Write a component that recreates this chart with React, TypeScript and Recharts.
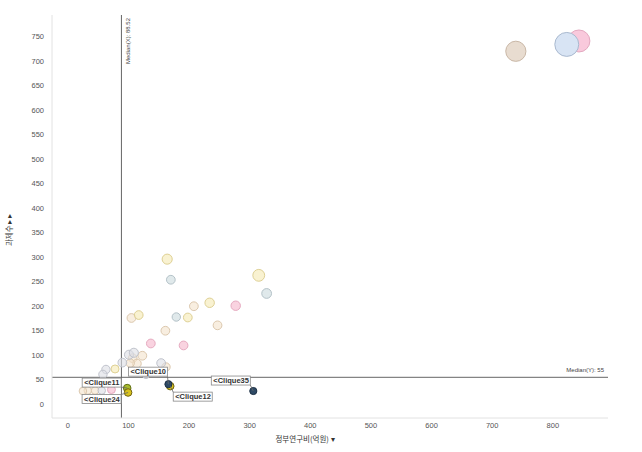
import React from 'react';
import {
  ScatterChart, Scatter, XAxis, YAxis, ZAxis, ReferenceLine, LabelList
} from 'recharts';

// x: 정부연구비(억원), y: 과제수, z: bubble size
const yellowPts = [
  { x: 164, y: 296, z: 80 }, { x: 315, y: 263, z: 110 }, { x: 117, y: 182, z: 60 },
  { x: 198, y: 177, z: 60 }, { x: 234, y: 207, z: 70 }, { x: 78, y: 72, z: 50 },
];
const beigePts = [
  { x: 208, y: 200, z: 60 }, { x: 247, y: 161, z: 60 }, { x: 105, y: 176, z: 60 },
  { x: 161, y: 150, z: 60 }, { x: 123, y: 99, z: 60 }, { x: 107, y: 94, z: 60 },
  { x: 114, y: 83, z: 60 }, { x: 103, y: 84, z: 55 }, { x: 162, y: 76, z: 55 },
  { x: 33, y: 28, z: 45 }, { x: 45, y: 28, z: 45 }, { x: 25, y: 27, z: 45 },
];
const blueGrayPts = [
  { x: 170, y: 254, z: 60 }, { x: 328, y: 226, z: 75 }, { x: 179, y: 178, z: 55 },
];
const grayPts = [
  { x: 101, y: 101, z: 65 }, { x: 109, y: 105, z: 65 }, { x: 90, y: 85, z: 60 },
  { x: 154, y: 84, z: 60 }, { x: 129, y: 61, z: 55 }, { x: 63, y: 71, z: 55 },
  { x: 58, y: 61, z: 55 }, { x: 56, y: 28, z: 45 },
];
const pinkPts = [
  { x: 277, y: 201, z: 70 }, { x: 137, y: 124, z: 60 }, { x: 191, y: 120, z: 60 },
  { x: 72, y: 30, z: 50 },
];
const bigPts = [
  { x: 739, y: 720, z: 320, c: 'beige' },
  { x: 843, y: 741, z: 380, c: 'pink' },
  { x: 823, y: 734, z: 450, c: 'blue' },
];
const greenPts = [{ x: 98, y: 33, z: 45, name: 'Clique11' }];
const goldPts = [
  { x: 99.5, y: 24, z: 45, name: 'Clique24' },
  { x: 169, y: 37, z: 45, name: 'Clique12' },
];
const navyPts = [
  { x: 166, y: 41, z: 40, name: 'Clique10' },
  { x: 306, y: 27, z: 40, name: 'Clique35' },
];

const xTicks = [0, 100, 200, 300, 400, 500, 600, 700, 800];
const yTicks = [0, 50, 100, 150, 200, 250, 300, 350, 400, 450, 500, 550, 600, 650, 700, 750];
const medianX = 88.52;
const medianY = 55;

// label box offsets relative to the point (pixels)
const boxOffset: Record<string, [number, number]> = {
  Clique10: [-40, -17],
  Clique12: [3, 6],
  Clique11: [-45, -10],
  Clique24: [-46, 2],
  Clique35: [-42, -15],
};

const bigFill: Record<string, [string, string]> = {
  beige: ['#e8dcd0', '#c9b7a6'],
  pink: ['#f9c9dc', '#e3a9c0'],
  blue: ['#d8e4f4', '#a9b9cf'],
};

const font = 'Liberation Sans, Arial, sans-serif';

function CliqueLabel(props: any) {
  const { x, y, width, height, value } = props;
  const cx = x + width / 2;
  const cy = y + height / 2;
  const [dx, dy] = boxOffset[value] || [0, 0];
  const bx = cx + dx;
  const by = cy + dy;
  const w = 39;
  const h = 9;
  const nearX = Math.min(Math.max(cx, bx), bx + w);
  const nearY = Math.min(Math.max(cy, by), by + h);
  return (
    <g>
      <line x1={cx} y1={cy} x2={nearX} y2={nearY} stroke="#666" strokeWidth={0.8} />
      <rect x={bx} y={by} width={w} height={h} fill="#fff" stroke="#888" strokeWidth={0.8} />
      <text x={bx + 2} y={by + 7.2} fontSize={7.5} fontWeight="bold" fill="#333" fontFamily={font}>
        {'<' + value}
      </text>
    </g>
  );
}

export default function App() {
  return (
    <div style={{ position: 'absolute', left: 0, top: 0, width: 642, height: 452, background: '#fff' }}>
      <ScatterChart width={642} height={452} margin={{ top: 15, right: 34, bottom: 0, left: 0 }}>
        <XAxis
          type="number" dataKey="x" domain={[-26, 891]} ticks={xTicks}
          axisLine={{ stroke: '#e2e2e2' }} tickLine={false} height={34}
          tick={{ fontSize: 7.5, fill: '#555', fontFamily: font, dy: -3 }}
          label={() => (
            <text x={305} y={442} textAnchor="middle" fontSize={7.5} fill="#333" fontFamily="Noto Sans CJK KR, sans-serif">
              정부연구비(억원) ▾
            </text>
          )}
        />
        <YAxis
          type="number" dataKey="y" domain={[-28, 794]} ticks={yTicks} width={52}
          axisLine={{ stroke: '#e2e2e2' }} tickLine={false}
          tick={{ fontSize: 7.5, fill: '#555', fontFamily: font }}
          label={() => (
            <text x={12} y={230} transform="rotate(-90 12 230)" textAnchor="middle" fontSize={7.5} fill="#333" fontFamily="Noto Sans CJK KR, sans-serif">
              과제수 ▸ ▸
            </text>
          )}
        />
        <ZAxis type="number" dataKey="z" domain={[0, 500]} range={[0, 500]} />
        <ReferenceLine
          x={medianX} stroke="#666" strokeWidth={1}
          label={(p: any) => {
            const vb = p.viewBox;
            const tx = vb.x + 9;
            const ty = vb.y + 26;
            return (
              <text x={tx} y={ty} transform={`rotate(-90 ${tx} ${ty})`} textAnchor="middle" fontSize={6} fill="#444" fontFamily={font}>
                Median(X): 88.52
              </text>
            );
          }}
        />
        <ReferenceLine
          y={medianY} stroke="#666" strokeWidth={1}
          label={(p: any) => {
            const vb = p.viewBox;
            return (
              <text x={vb.x + vb.width - 4} y={vb.y - 5} textAnchor="end" fontSize={6} fill="#444" fontFamily={font}>
                Median(Y): 55
              </text>
            );
          }}
        />
        <Scatter data={beigePts} fill="#f4e3cc" fillOpacity={0.6} stroke="#dcc8ae" strokeWidth={1} isAnimationActive={false} />
        <Scatter data={grayPts} fill="#dcdde4" fillOpacity={0.6} stroke="#c0c3cc" strokeWidth={1} isAnimationActive={false} />
        <Scatter data={yellowPts} fill="#f6edbd" fillOpacity={0.7} stroke="#ded094" strokeWidth={1} isAnimationActive={false} />
        <Scatter data={blueGrayPts} fill="#d3e0e3" fillOpacity={0.7} stroke="#b4c2c8" strokeWidth={1} isAnimationActive={false} />
        <Scatter data={pinkPts} fill="#f6c0d3" fillOpacity={0.7} stroke="#e6aac0" strokeWidth={1} isAnimationActive={false} />
        <Scatter
          data={bigPts} isAnimationActive={false}
          shape={(p: any) => {
            const [f, s] = bigFill[p.payload.c];
            const r = Math.sqrt(p.payload.z / Math.PI);
            return <circle cx={p.cx} cy={p.cy} r={r} fill={f} stroke={s} strokeWidth={1} />;
          }}
        />
        <Scatter data={greenPts} fill="#a9bb2c" stroke="#5f6e12" strokeWidth={1} isAnimationActive={false}>
          <LabelList dataKey="name" content={CliqueLabel} />
        </Scatter>
        <Scatter data={goldPts} fill="#d8c21e" stroke="#6f6210" strokeWidth={1} isAnimationActive={false}>
          <LabelList dataKey="name" content={CliqueLabel} />
        </Scatter>
        <Scatter data={navyPts} fill="#2e4a66" stroke="#1c2f44" strokeWidth={1} isAnimationActive={false}>
          <LabelList dataKey="name" content={CliqueLabel} />
        </Scatter>
      </ScatterChart>
    </div>
  );
}
